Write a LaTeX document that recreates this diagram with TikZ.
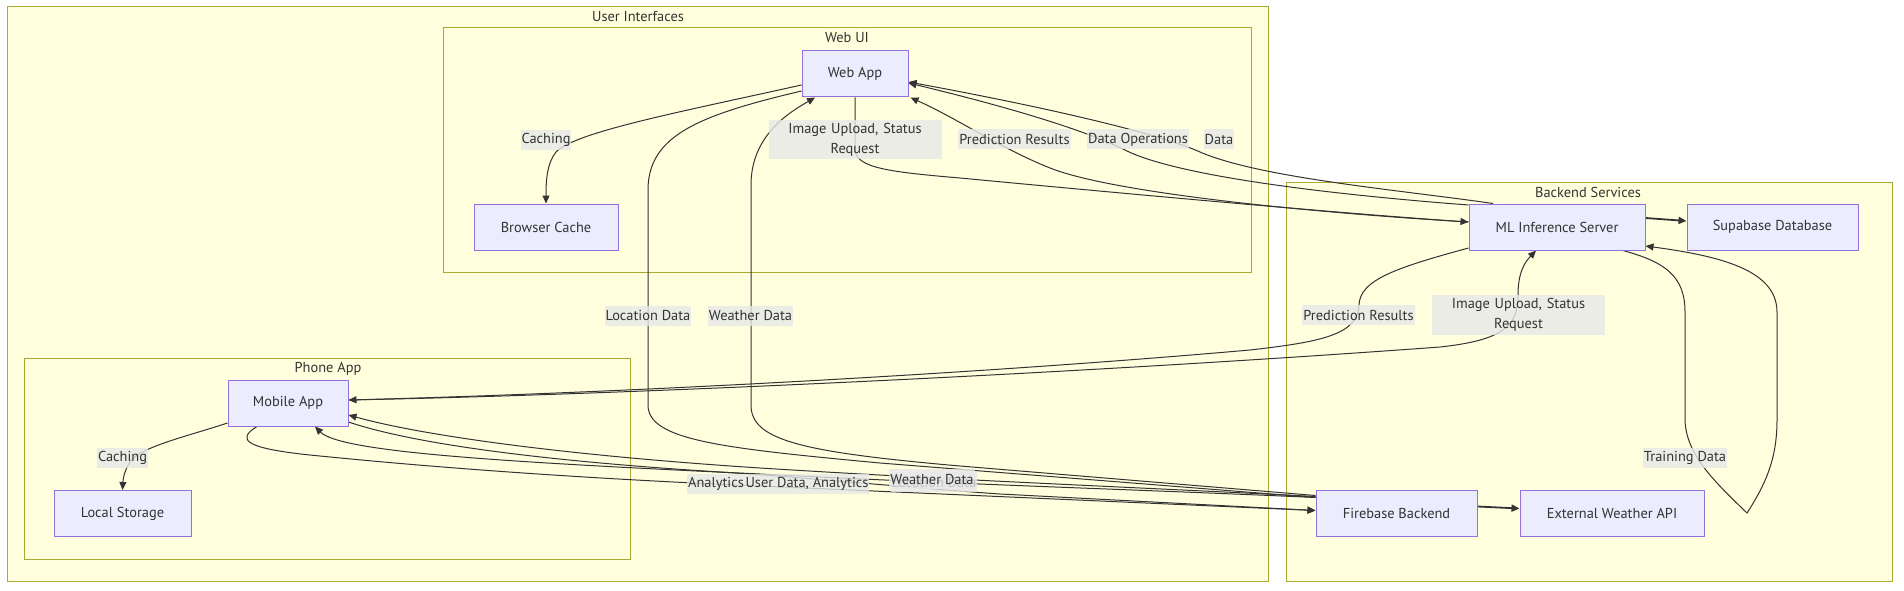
\documentclass[tikz,border=0pt]{standalone}
\usepackage{fontspec}
\setmainfont{PT Sans}
\usetikzlibrary{arrows.meta,calc}
\definecolor{clfill}{HTML}{FFFFDE}
\definecolor{clline}{HTML}{AAAA33}
\definecolor{ndfill}{HTML}{ECECFF}
\definecolor{ndline}{HTML}{9370DB}
\definecolor{edgec}{HTML}{333333}
\definecolor{lblbg}{HTML}{E8E8E8}
\pgfdeclarelayer{clusterlayer}
\pgfdeclarelayer{edgelayer}
\pgfsetlayers{clusterlayer,edgelayer,main}
\newcommand\dfont{\fontsize{14.4}{20}\selectfont}
\tikzset{
 cluster/.style={draw=clline, fill=clfill, line width=1pt},
 box/.style={draw=ndline, fill=ndfill, line width=1pt, minimum height=46pt, inner sep=0pt, text=edgec, font=\dfont},
 lbl/.style={fill=lblbg, fill opacity=0.8, text opacity=1, text=edgec, inner xsep=1pt, inner ysep=0pt, minimum height=20pt, font=\dfont},
 lbltwo/.style={lbl, text width=171pt, align=center, inner ysep=3pt},
 ttl/.style={text=edgec, font=\dfont, inner sep=0pt},
 conn/.style={draw=edgec, line width=1pt},
 arr/.style={-{Triangle[length=8pt,width=7pt]}},
}
\begin{document}
\begin{tikzpicture}[x=1pt,y=-1pt]
\begin{pgfonlayer}{clusterlayer}
\fill[white] (0,0) rectangle (1904,591);
\draw[cluster] (7,7) rectangle (1268,581);
\draw[cluster] (443,28) rectangle (1251,272);
\draw[cluster] (24,358) rectangle (630,559);
\draw[cluster] (1286,182) rectangle (1892,581);
\end{pgfonlayer}
\useasboundingbox (0,0) rectangle (1904,591);
% cluster titles
\node[ttl] (tUI) at (638,17) {User Interfaces};
\node[ttl] (tWeb) at (847,38) {Web UI};
\node[ttl] (tPhone) at (328,369) {Phone App};
\node[ttl] (tBack) at (1588,192) {Backend Services};
% nodes
\node[box, minimum width=106pt] (WebApp) at (855,74) {Web App};
\node[box, minimum width=144pt] (BrowserCache) at (546,227) {Browser Cache};
\node[box, minimum width=120pt] (MobileApp) at (288,403) {Mobile App};
\node[box, minimum width=137pt] (LocalStorage) at (122.5,513.5) {Local Storage};
\node[box, minimum width=176pt] (ML) at (1557,227) {ML Inference Server};
\node[box, minimum width=171pt] (Supabase) at (1772.5,227) {Supabase Database};
\node[box, minimum width=161pt] (Firebase) at (1396.5,513.5) {Firebase Backend};
\node[box, minimum width=184pt] (Weather) at (1612,513.5) {External Weather API};
% edge labels
\node[lbl] (lCacheW) at (546,140) {Caching};
\node[lbltwo] (lUpW) at (855,139.5) {Image Upload, Status\\Request};
\node[lbl] (lPredW) at (1014.5,139.5) {Prediction Results};
\node[lbl] (lDataOps) at (1138,139.5) {Data Operations};
\node[lbl] (lData) at (1219,139.5) {Data};
\node[lbl] (lLoc) at (648,315.5) {Location Data};
\node[lbl] (lWeaW) at (750.5,315.5) {Weather Data};
\node[lbl] (lPredM) at (1358.5,315) {Prediction Results};
\node[lbltwo] (lUpM) at (1518.5,315) {Image Upload, Status\\Request};
\node[lbl] (lCacheM) at (122.5,458) {Caching};
\node[lbl] (lAna) at (716,483.5) {Analytics};
\node[lbl] (lUDA) at (807,483.5) {User Data, Analytics};
\node[lbl] (lLocM) at (934,482) {Location Data};
\node[lbl] (lWeaM) at (932,479) {Weather Data};
\node[lbl] (lTrain) at (1685,458) {Training Data};
% edges
\begin{pgfonlayer}{edgelayer}
\draw[conn,arr] ([yshift=-11pt]WebApp.west) .. controls (680,112) and (575,132) .. (556,152) .. controls (547,163) and (546,180) .. (BrowserCache.north);
\draw[conn] ([yshift=-17pt]WebApp.west) .. controls (700,115) and (648,135) .. (648,190) -- (648,405) .. controls (648,440) and (720,448) .. (880,463) -- ([yshift=16pt]Firebase.west);
\draw[conn,arr] ([yshift=18pt]Firebase.west) -- (960,466) .. controls (800,452) and (751,440) .. (751,405) -- (751,185) .. controls (751,135) and (790,112) .. ([xshift=-40pt]WebApp.south);
\draw[conn,arr] (WebApp.south) -- (855,150) .. controls (856,168) and (890,172) .. (960,178) .. controls (1150,196) and (1350,214) .. ([yshift=5pt]ML.west);
\draw[conn,arr] ([yshift=5pt]ML.west) .. controls (1300,212) and (1110,192) .. (1050,168) .. controls (1000,148) and (960,120) .. ([xshift=2pt]WebApp.south east);
\draw[conn,arr] ([yshift=22pt]ML.west) .. controls (1350,196) and (1180,178) .. (1125,150) .. controls (1080,128) and (1000,105) .. ([yshift=-9pt]WebApp.east);
\draw[conn,arr] ([xshift=-64pt]ML.north) .. controls (1400,190) and (1260,178) .. (1200,152) .. controls (1160,134) and (1050,108) .. ([yshift=-8pt]WebApp.east);
\draw[conn,arr] ([yshift=-21pt]ML.west) .. controls (1395,268) and (1360,280) .. (1359,305) .. controls (1358,335) and (1320,342) .. (1250,350) .. controls (1000,372) and (650,392) .. ([yshift=3pt]MobileApp.east);
\draw[conn,arr] ([yshift=3pt]MobileApp.east) .. controls (650,394) and (1100,372) .. (1440,347) .. controls (1505,340) and (1518,325) .. (1518,295) .. controls (1518,272) and (1525,262) .. ([xshift=-21pt]ML.south);
\draw[conn,arr,line width=1.8pt] ([yshift=9pt]ML.east) -- ([yshift=6pt]Supabase.west);
\draw[conn,arr] ([xshift=66pt]ML.south) .. controls (1665,262) and (1685,276) .. (1685,312) -- (1685,420) .. controls (1686,455) and (1715,482) .. (1747,513) .. controls (1765,485) and (1777,460) .. (1777,420) -- (1777,312) .. controls (1777,270) and (1720,256) .. ([yshift=-19pt]ML.east);
\draw[conn,arr] ([yshift=-20pt]MobileApp.west) .. controls (185,437) and (140,447) .. (130,462) .. controls (124,471) and (123,480) .. (LocalStorage.north);
\draw[conn,arr] ([xshift=-31pt]MobileApp.south) .. controls (235,440) and (245,449) .. (320,456) .. controls (480,472) and (640,481) .. (760,486) -- ([yshift=3pt]Firebase.west);
\draw[conn,arr] ([yshift=-19pt]MobileApp.east) .. controls (420,446) and (560,462) .. (720,472) .. controls (800,477) and (900,487) .. (1000,494) -- ([yshift=3pt]Firebase.west);
\draw[conn,arr] ([yshift=17pt]Firebase.west) .. controls (1150,488) and (950,480) .. (760,468) .. controls (560,455) and (420,435) .. ([yshift=-12pt]MobileApp.east);
\draw[conn,arr] ([yshift=16pt]Firebase.west) .. controls (1150,490) and (950,484) .. (760,474) .. controls (500,462) and (340,452) .. ([xshift=27pt]MobileApp.south);
\draw[conn,arr,line width=1.8pt] ([yshift=7pt]Firebase.east) -- ([yshift=5pt]Weather.west);
\end{pgfonlayer}
\end{tikzpicture}
\end{document}
